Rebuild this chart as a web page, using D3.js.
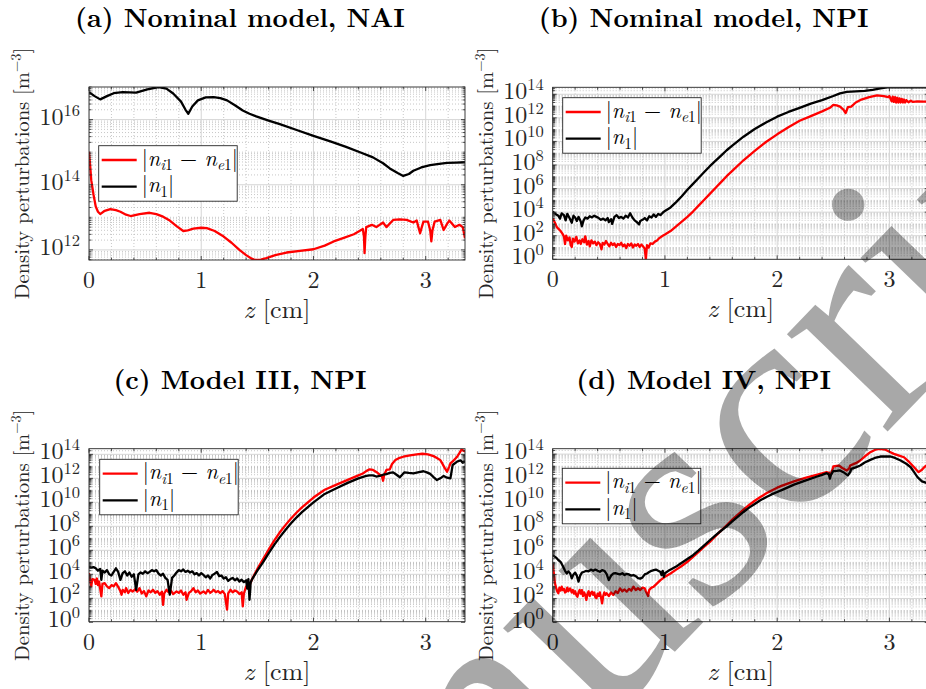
<!DOCTYPE html>
<html>
<head>
<meta charset="utf-8">
<script src="https://cdn.jsdelivr.net/npm/d3@7"></script>
<style>
  body { margin: 0; background: #fff; }
  svg { display: block; }
</style>
</head>
<body>
<svg id="fig" width="926" height="689"></svg>
<script>
// values: [z (cm), log10 of |perturbation| (m^-3)]
const aDiff = [[0,15.01],[0.01,14.6],[0.02,14.14],[0.04,13.7],[0.06,13.33],[0.08,13.17],[0.1,13.1],[0.14,13.2],[0.19,13.25],[0.24,13.22],[0.28,13.17],[0.33,13.08],[0.37,13.04],[0.45,13.1],[0.54,13.14],[0.6,13.1],[0.66,13.02],[0.72,12.9],[0.78,12.73],[0.84,12.58],[0.88,12.6],[0.93,12.65],[1.0,12.68],[1.05,12.67],[1.12,12.58],[1.2,12.41],[1.27,12.22],[1.34,12.0],[1.4,11.84],[1.45,11.73],[1.48,11.69],[1.53,11.7],[1.58,11.75],[1.66,11.84],[1.76,11.92],[1.88,11.97],[2.0,12.02],[2.1,12.13],[2.18,12.26],[2.27,12.37],[2.36,12.48],[2.44,12.64],[2.45,12.4],[2.455,11.9],[2.462,12.4],[2.47,12.7],[2.52,12.77],[2.56,12.7],[2.62,12.84],[2.65,12.7],[2.71,12.92],[2.77,12.94],[2.83,12.92],[2.89,12.84],[2.92,12.9],[2.935,12.7],[2.95,12.51],[2.965,12.7],[2.98,12.87],[3.02,12.87],[3.04,12.6],[3.05,12.26],[3.06,12.6],[3.08,12.87],[3.13,12.92],[3.16,12.61],[3.19,12.8],[3.21,12.9],[3.26,12.7],[3.3,12.77],[3.33,12.7],[3.35,12.36]];
const aN1 = [[0,16.84],[0.05,16.72],[0.1,16.62],[0.16,16.72],[0.22,16.81],[0.3,16.84],[0.42,16.83],[0.52,16.93],[0.62,17.0],[0.69,16.95],[0.75,16.8],[0.82,16.55],[0.86,16.3],[0.885,16.18],[0.92,16.4],[0.97,16.59],[1.04,16.68],[1.11,16.69],[1.17,16.66],[1.23,16.59],[1.3,16.44],[1.37,16.28],[1.43,16.18],[1.49,16.1],[1.6,15.97],[1.7,15.86],[1.85,15.68],[2.0,15.5],[2.15,15.33],[2.29,15.16],[2.42,14.99],[2.53,14.84],[2.62,14.66],[2.68,14.5],[2.75,14.36],[2.8,14.27],[2.85,14.33],[2.89,14.43],[2.96,14.53],[3.04,14.6],[3.12,14.64],[3.19,14.67],[3.27,14.68],[3.35,14.69]];

const bDiff = [[0,3.48],[0.02,3.1],[0.035,2.77],[0.05,2.6],[0.07,2.4],[0.085,2.2],[0.1,1.95],[0.11,1.3],[0.12,2.0],[0.135,1.6],[0.15,1.85],[0.16,1.2],[0.17,1.05],[0.18,1.75],[0.195,1.5],[0.21,1.9],[0.225,1.35],[0.24,1.6],[0.25,1.3],[0.265,1.7],[0.28,1.45],[0.29,1.95],[0.305,1.25],[0.32,1.55],[0.33,1.1],[0.345,1.6],[0.36,1.35],[0.375,1.5],[0.39,1.2],[0.405,1.45],[0.42,1.3],[0.435,0.85],[0.445,1.4],[0.46,1.25],[0.475,1.55],[0.49,1.3],[0.505,1.1],[0.52,1.4],[0.535,1.2],[0.55,1.35],[0.565,1.05],[0.58,1.3],[0.595,1.2],[0.61,1.4],[0.625,1.1],[0.64,1.25],[0.655,0.95],[0.67,1.3],[0.685,1.15],[0.7,1.35],[0.715,1.0],[0.73,1.25],[0.745,1.15],[0.76,1.3],[0.775,1.05],[0.79,1.25],[0.805,1.1],[0.82,0.9],[0.83,0.0],[0.84,1.2],[0.855,1.0],[0.87,1.35],[0.89,1.3],[0.91,1.5],[0.93,1.6],[0.95,1.8],[0.98,2.0],[1.0,2.1],[1.05,2.4],[1.1,2.8],[1.15,3.2],[1.2,3.6],[1.25,4.05],[1.3,4.55],[1.35,5.05],[1.4,5.55],[1.45,6.05],[1.5,6.55],[1.55,7.05],[1.6,7.5],[1.7,8.4],[1.8,9.2],[1.9,9.95],[2.0,10.6],[2.1,11.2],[2.2,11.75],[2.3,12.15],[2.4,12.55],[2.47,12.85],[2.5,13.1],[2.53,13.05],[2.56,12.95],[2.59,12.7],[2.61,12.4],[2.63,12.9],[2.66,12.95],[2.7,13.3],[2.75,13.55],[2.82,13.75],[2.89,13.9],[2.95,13.85],[2.99,13.75],[3.0,13.85],[3.02,13.4],[3.03,13.8],[3.04,13.35],[3.05,13.75],[3.06,13.3],[3.07,13.7],[3.08,13.3],[3.09,13.65],[3.1,13.3],[3.11,13.6],[3.12,13.3],[3.13,13.55],[3.14,13.3],[3.15,13.5],[3.17,13.32],[3.19,13.45],[3.21,13.35],[3.25,13.4],[3.3,13.37],[3.35,13.38]];
const bN1 = [[0,4.04],[0.025,3.85],[0.05,3.7],[0.065,3.45],[0.08,3.9],[0.1,3.75],[0.115,3.3],[0.13,3.85],[0.15,3.5],[0.17,3.1],[0.185,3.7],[0.2,3.55],[0.215,3.25],[0.23,3.6],[0.25,3.2],[0.26,2.8],[0.275,3.3],[0.29,3.55],[0.31,3.45],[0.33,3.65],[0.35,3.55],[0.37,3.7],[0.39,3.6],[0.41,3.5],[0.43,3.35],[0.45,3.45],[0.47,3.3],[0.49,3.5],[0.5,3.15],[0.52,3.4],[0.53,3.0],[0.55,3.6],[0.57,3.75],[0.59,3.5],[0.61,3.6],[0.63,3.45],[0.65,3.7],[0.67,3.55],[0.69,3.9],[0.71,3.55],[0.73,3.3],[0.75,3.15],[0.77,2.95],[0.78,3.25],[0.8,3.35],[0.82,3.5],[0.84,3.3],[0.86,3.65],[0.88,3.55],[0.9,3.8],[0.92,3.6],[0.94,3.85],[0.96,3.75],[0.98,3.95],[1.0,4.1],[1.05,4.4],[1.1,4.85],[1.15,5.35],[1.2,5.9],[1.25,6.4],[1.3,6.9],[1.35,7.4],[1.4,7.9],[1.45,8.35],[1.5,8.8],[1.55,9.25],[1.6,9.65],[1.7,10.4],[1.8,11.05],[1.9,11.6],[2.0,12.1],[2.1,12.5],[2.2,12.85],[2.3,13.2],[2.4,13.5],[2.5,13.85],[2.56,14.08],[2.62,14.2],[2.7,14.25],[2.78,14.28],[2.85,14.38],[2.92,14.5],[2.98,14.59],[3.35,14.59]];

const cDiff = [[0,4.1],[0.01,3.5],[0.02,2.99],[0.03,3.6],[0.05,3.54],[0.06,3.2],[0.07,3.65],[0.08,3.1],[0.09,3.4],[0.11,2.16],[0.12,3.2],[0.14,3.26],[0.16,3.0],[0.18,2.85],[0.2,3.1],[0.22,3.0],[0.24,3.26],[0.26,2.95],[0.28,2.6],[0.29,2.3],[0.3,2.7],[0.32,2.5],[0.33,2.85],[0.35,2.45],[0.37,2.7],[0.39,2.57],[0.41,2.75],[0.43,2.55],[0.45,2.85],[0.47,2.4],[0.49,2.6],[0.51,2.16],[0.53,2.65],[0.55,2.5],[0.57,2.71],[0.59,2.45],[0.61,2.6],[0.63,2.3],[0.65,2.55],[0.66,1.46],[0.67,2.4],[0.69,2.71],[0.71,2.5],[0.73,2.65],[0.75,2.35],[0.78,2.57],[0.8,2.45],[0.82,2.65],[0.84,2.3],[0.86,2.5],[0.87,1.88],[0.89,2.45],[0.91,2.6],[0.93,2.85],[0.95,2.5],[0.97,2.65],[0.99,2.4],[1.02,2.57],[1.04,2.4],[1.06,2.7],[1.08,2.45],[1.1,2.6],[1.11,2.71],[1.13,2.5],[1.15,2.6],[1.17,2.43],[1.19,2.6],[1.21,2.35],[1.23,1.05],[1.24,2.4],[1.26,2.71],[1.28,2.5],[1.3,2.65],[1.32,2.57],[1.34,2.35],[1.36,2.5],[1.37,1.33],[1.38,2.4],[1.4,2.99],[1.42,2.85],[1.44,3.3],[1.45,3.54],[1.5,4.45],[1.55,5.25],[1.6,6.05],[1.65,6.8],[1.7,7.5],[1.75,8.1],[1.8,8.65],[1.85,9.15],[1.9,9.6],[1.95,10.0],[2.0,10.4],[2.1,11.05],[2.2,11.45],[2.3,11.85],[2.4,12.25],[2.44,12.4],[2.47,12.6],[2.5,12.75],[2.53,12.7],[2.56,12.53],[2.59,12.3],[2.61,12.15],[2.62,11.8],[2.63,12.3],[2.65,12.7],[2.68,12.75],[2.7,13.2],[2.73,13.52],[2.76,13.68],[2.8,13.8],[2.86,13.92],[2.92,14.0],[2.97,14.05],[3.02,14.0],[3.07,13.85],[3.1,13.7],[3.13,13.52],[3.15,13.2],[3.17,12.85],[3.19,12.55],[3.21,13.0],[3.22,13.25],[3.25,13.5],[3.28,13.8],[3.3,14.1],[3.32,14.42],[3.335,14.3],[3.35,14.25]];
const cN1 = [[0,4.65],[0.02,4.55],[0.04,4.6],[0.06,4.5],[0.08,4.3],[0.1,4.45],[0.11,3.54],[0.12,4.3],[0.14,4.15],[0.16,4.35],[0.18,4.0],[0.2,3.9],[0.22,4.2],[0.24,4.5],[0.26,4.2],[0.28,3.54],[0.3,4.1],[0.32,4.25],[0.34,3.9],[0.36,4.15],[0.38,3.8],[0.4,4.0],[0.42,2.7],[0.44,4.0],[0.46,4.15],[0.48,4.05],[0.5,4.25],[0.52,4.1],[0.54,4.2],[0.56,4.35],[0.58,4.25],[0.6,4.35],[0.62,4.05],[0.64,3.9],[0.66,4.05],[0.68,3.7],[0.7,3.54],[0.72,2.3],[0.74,3.7],[0.76,3.9],[0.78,4.15],[0.8,4.35],[0.82,4.25],[0.84,4.4],[0.86,4.2],[0.88,4.3],[0.9,4.15],[0.92,4.25],[0.94,4.0],[0.96,4.1],[0.98,3.9],[1.0,4.1],[1.02,3.95],[1.04,3.75],[1.06,3.9],[1.08,3.65],[1.1,3.95],[1.12,4.05],[1.14,4.2],[1.16,3.85],[1.18,3.9],[1.2,3.65],[1.22,3.75],[1.24,3.45],[1.26,3.6],[1.28,3.7],[1.3,3.5],[1.32,3.65],[1.34,3.4],[1.36,3.55],[1.38,3.35],[1.4,3.5],[1.41,2.8],[1.42,3.6],[1.43,1.88],[1.44,3.3],[1.45,3.54],[1.5,4.3],[1.55,5.0],[1.6,5.75],[1.65,6.45],[1.7,7.1],[1.75,7.7],[1.8,8.25],[1.85,8.75],[1.9,9.2],[1.95,9.6],[2.0,10.0],[2.1,10.7],[2.2,11.15],[2.3,11.6],[2.4,12.0],[2.47,12.2],[2.5,12.25],[2.53,12.25],[2.56,12.15],[2.59,12.2],[2.62,12.3],[2.65,12.35],[2.68,12.45],[2.71,12.5],[2.74,12.3],[2.77,12.09],[2.79,12.3],[2.81,12.5],[2.85,12.45],[2.89,12.42],[2.94,12.52],[2.98,12.59],[3.01,12.5],[3.04,12.37],[3.07,12.1],[3.1,11.86],[3.13,12.0],[3.16,12.2],[3.19,12.05],[3.22,12.0],[3.24,13.11],[3.28,13.4],[3.31,13.5],[3.33,13.3],[3.35,13.4]];

const dDiff = [[0,4.91],[0.01,4.1],[0.02,3.26],[0.03,2.9],[0.04,2.6],[0.05,2.43],[0.06,2.9],[0.07,2.65],[0.08,2.98],[0.09,2.7],[0.1,2.8],[0.11,2.5],[0.12,2.57],[0.13,2.9],[0.14,2.6],[0.155,2.84],[0.17,2.5],[0.18,2.7],[0.19,2.4],[0.2,2.6],[0.21,2.3],[0.22,2.15],[0.23,2.5],[0.24,2.7],[0.25,2.4],[0.26,2.7],[0.27,2.2],[0.28,2.5],[0.29,2.3],[0.3,1.88],[0.31,2.4],[0.32,2.6],[0.33,2.2],[0.34,2.45],[0.35,2.57],[0.36,2.3],[0.37,2.5],[0.38,2.1],[0.39,2.02],[0.4,2.4],[0.41,2.2],[0.42,2.5],[0.43,2.1],[0.44,1.6],[0.45,2.2],[0.46,2.5],[0.47,2.3],[0.48,2.43],[0.5,2.2],[0.52,2.5],[0.54,2.29],[0.56,2.6],[0.58,2.45],[0.6,2.84],[0.62,2.6],[0.64,2.75],[0.66,2.57],[0.68,2.8],[0.7,2.65],[0.72,2.98],[0.74,2.7],[0.76,2.85],[0.78,2.7],[0.8,2.9],[0.82,2.84],[0.83,2.6],[0.85,2.2],[0.86,2.7],[0.88,2.9],[0.9,2.98],[0.93,3.25],[0.96,3.53],[1.0,3.8],[1.05,4.08],[1.1,4.4],[1.14,4.64],[1.2,5.05],[1.25,5.46],[1.3,5.88],[1.35,6.3],[1.4,6.71],[1.45,7.18],[1.5,7.64],[1.55,8.09],[1.6,8.55],[1.65,8.98],[1.7,9.39],[1.75,9.77],[1.8,10.12],[1.85,10.43],[1.9,10.72],[1.95,10.98],[2.0,11.21],[2.05,11.4],[2.1,11.57],[2.15,11.73],[2.2,11.88],[2.25,12.02],[2.3,12.15],[2.35,12.27],[2.4,12.4],[2.44,12.5],[2.46,12.45],[2.48,12.3],[2.5,12.97],[2.53,13.02],[2.55,13.05],[2.58,12.85],[2.62,12.64],[2.64,12.8],[2.65,13.05],[2.7,13.25],[2.74,13.47],[2.78,13.8],[2.83,14.16],[2.87,14.35],[2.9,14.44],[2.93,14.42],[2.96,14.38],[3.0,14.2],[3.04,14.02],[3.08,13.9],[3.13,13.74],[3.17,13.4],[3.22,12.91],[3.26,12.5],[3.29,12.7],[3.31,12.91],[3.33,13.05],[3.35,13.1]];
const dN1 = [[0,5.6],[0.03,5.4],[0.05,5.2],[0.07,5.05],[0.09,4.7],[0.11,4.3],[0.125,4.08],[0.14,4.25],[0.155,4.1],[0.17,3.67],[0.185,4.0],[0.2,4.15],[0.215,3.9],[0.23,3.4],[0.245,3.9],[0.26,4.15],[0.28,4.22],[0.3,4.3],[0.32,4.25],[0.34,4.4],[0.36,4.3],[0.38,4.4],[0.4,4.3],[0.42,4.22],[0.44,4.35],[0.46,4.3],[0.48,4.05],[0.5,3.53],[0.52,3.9],[0.54,4.08],[0.56,4.1],[0.58,4.05],[0.6,4.0],[0.62,4.1],[0.64,3.95],[0.66,4.05],[0.68,4.0],[0.7,3.9],[0.72,3.95],[0.74,3.85],[0.76,3.7],[0.78,3.65],[0.8,3.75],[0.82,4.0],[0.84,4.08],[0.86,4.2],[0.88,4.3],[0.9,4.35],[0.92,4.4],[0.94,4.3],[0.96,4.2],[0.97,3.95],[0.98,4.3],[0.99,3.8],[1.0,4.1],[1.03,4.3],[1.06,4.45],[1.1,4.65],[1.13,4.85],[1.17,5.1],[1.21,5.35],[1.25,5.6],[1.3,6.0],[1.35,6.42],[1.4,6.84],[1.45,7.25],[1.5,7.63],[1.55,8.0],[1.6,8.4],[1.65,8.8],[1.7,9.19],[1.75,9.55],[1.8,9.85],[1.85,10.16],[1.9,10.42],[1.95,10.65],[2.0,10.85],[2.05,11.05],[2.1,11.26],[2.15,11.46],[2.2,11.63],[2.25,11.8],[2.3,11.96],[2.35,12.12],[2.4,12.28],[2.44,12.42],[2.46,12.3],[2.47,11.96],[2.48,12.3],[2.5,12.58],[2.53,12.6],[2.56,12.64],[2.59,12.5],[2.62,12.3],[2.63,12.23],[2.65,12.5],[2.66,12.77],[2.7,12.9],[2.74,13.05],[2.78,13.3],[2.83,13.52],[2.87,13.68],[2.92,13.8],[2.97,13.82],[3.01,13.8],[3.05,13.68],[3.1,13.47],[3.15,13.2],[3.19,12.91],[3.22,12.5],[3.25,12.08],[3.29,11.73],[3.33,11.6],[3.35,11.55]];

const zRange = [0, 3.35];
const xTicks = [0, 1, 2, 3];
const titles = ["(a) Nominal model, NAI", "(b) Nominal model, NPI", "(c) Model III, NPI", "(d) Model IV, NPI"];
const yRanges = [[11.69, 17.0], [0, 14.59], [0.05, 14.47], [0.07, 14.45]]; // log10 limits
const yTickExps = [[12, 14, 16], [0, 2, 4, 6, 8, 10, 12, 14], [0, 2, 4, 6, 8, 10, 12, 14], [0, 2, 4, 6, 8, 10, 12, 14]];
const seriesDiff = [aDiff, bDiff, cDiff, dDiff];
const seriesN1 = [aN1, bN1, cN1, dN1];

// layout
const AXW = 376;
const boxes = [
  { x: 89, y: 87, h: 173, lx: 9.7, ly: 58.7 },
  { x: 552.7, y: 87.3, h: 172, lx: 10, ly: 10.4 },
  { x: 89, y: 448.7, h: 173, lx: 10.7, ly: 10.6 },
  { x: 552.7, y: 448.7, h: 173, lx: 9.6, ly: 19.6 }
];

const LM = "'Latin Modern Roman', 'Liberation Serif', serif";
const AXC = "#262626";
const svg = d3.select("#fig");
const defs = svg.append("defs");

// text made of runs: italic, subscript, superscript
function addRuns(sel, runs, size, subSize, subDy, supDy) {
  let shift = 0;
  runs.forEach(r => {
    const want = r.sub ? subDy : (r.sup ? supDy : 0);
    const ts = sel.append("tspan").text(r.t)
      .attr("font-size", (r.sub || r.sup) ? subSize : size)
      .attr("font-style", r.i ? "italic" : "normal");
    if (want !== shift) { ts.attr("dy", want - shift); shift = want; }
  });
}

const legendRuns = [
  [{t:"|"},{t:"n",i:1},{t:"i",i:1,sub:1},{t:"1",sub:1},{t:" − "},{t:"n",i:1},{t:"e",i:1,sub:1},{t:"1",sub:1},{t:"|"}],
  [{t:"|"},{t:"n",i:1},{t:"1",sub:1},{t:"|"}]
];

boxes.forEach((b, k) => {
  const x = d3.scaleLinear().domain(zRange).range([b.x, b.x + AXW]);
  const y = d3.scaleLog().domain(yRanges[k].map(e => Math.pow(10, e))).range([b.y + b.h, b.y]);
  const g = svg.append("g");
  const lo = yRanges[k][0], hi = yRanges[k][1];

  defs.append("clipPath").attr("id", "clip" + k)
    .append("rect").attr("x", b.x).attr("y", b.y).attr("width", AXW).attr("height", b.h);

  // minor grid (dotted)
  const minorY = [];
  for (let e = Math.floor(lo); e <= Math.ceil(hi); e++) {
    for (let m = 1; m <= 9; m++) {
      const v = m * Math.pow(10, e);
      const le = Math.log10(v);
      if (le < lo || le > hi) continue;
      if (m === 1 && yTickExps[k].includes(e)) continue;
      minorY.push(v);
    }
  }
  const minorX = d3.range(0.2, 3.35, 0.2).filter(v => Math.abs(v - Math.round(v)) > 1e-6);
  const grid = g.append("g").attr("clip-path", `url(#clip${k})`);
  grid.selectAll(".my").data(minorY).join("line")
    .attr("x1", b.x).attr("x2", b.x + AXW)
    .attr("y1", d => y(d)).attr("y2", d => y(d))
    .attr("stroke", "#b9b9b9").attr("stroke-width", 0.8).attr("stroke-dasharray", "1,2");
  grid.selectAll(".mx").data(minorX).join("line")
    .attr("y1", b.y).attr("y2", b.y + b.h)
    .attr("x1", d => x(d)).attr("x2", d => x(d))
    .attr("stroke", "#b9b9b9").attr("stroke-width", 0.8).attr("stroke-dasharray", "1,2");
  // major grid
  grid.selectAll(".gy").data(yTickExps[k]).join("line")
    .attr("x1", b.x).attr("x2", b.x + AXW)
    .attr("y1", d => y(Math.pow(10, d))).attr("y2", d => y(Math.pow(10, d)))
    .attr("stroke", "#d6d6d6").attr("stroke-width", 1);
  grid.selectAll(".gx").data(xTicks).join("line")
    .attr("y1", b.y).attr("y2", b.y + b.h)
    .attr("x1", d => x(d)).attr("x2", d => x(d))
    .attr("stroke", "#d6d6d6").attr("stroke-width", 1);

  // curves
  const line = d3.line().x(d => x(d[0])).y(d => y(Math.pow(10, d[1])));
  const curves = g.append("g").attr("clip-path", `url(#clip${k})`);
  curves.append("path").datum(seriesDiff[k]).attr("d", line)
    .attr("fill", "none").attr("stroke", "#ff0000").attr("stroke-width", 2.3).attr("stroke-linejoin", "round");
  curves.append("path").datum(seriesN1[k]).attr("d", line)
    .attr("fill", "none").attr("stroke", "#000").attr("stroke-width", 2.3).attr("stroke-linejoin", "round");

  // ticks (inward, all four sides)
  const tk = g.append("g").attr("stroke", AXC).attr("stroke-width", 0.8);
  xTicks.forEach(v => {
    tk.append("line").attr("x1", x(v)).attr("x2", x(v)).attr("y1", b.y + b.h).attr("y2", b.y + b.h - 4);
    tk.append("line").attr("x1", x(v)).attr("x2", x(v)).attr("y1", b.y).attr("y2", b.y + 4);
  });
  minorX.forEach(v => {
    tk.append("line").attr("x1", x(v)).attr("x2", x(v)).attr("y1", b.y + b.h).attr("y2", b.y + b.h - 2.5);
    tk.append("line").attr("x1", x(v)).attr("x2", x(v)).attr("y1", b.y).attr("y2", b.y + 2.5);
  });
  yTickExps[k].forEach(e => {
    const yy = y(Math.pow(10, e));
    tk.append("line").attr("x1", b.x).attr("x2", b.x + 4).attr("y1", yy).attr("y2", yy);
    tk.append("line").attr("x1", b.x + AXW).attr("x2", b.x + AXW - 4).attr("y1", yy).attr("y2", yy);
  });
  minorY.forEach(v => {
    const yy = y(v);
    tk.append("line").attr("x1", b.x).attr("x2", b.x + 2.5).attr("y1", yy).attr("y2", yy);
    tk.append("line").attr("x1", b.x + AXW).attr("x2", b.x + AXW - 2.5).attr("y1", yy).attr("y2", yy);
  });

  // box
  g.append("rect").attr("x", b.x).attr("y", b.y).attr("width", AXW).attr("height", b.h)
    .attr("fill", "none").attr("stroke", AXC).attr("stroke-width", 0.9);

  // tick labels
  g.selectAll(".xl").data(xTicks).join("text")
    .attr("x", d => x(d)).attr("y", b.y + b.h + 28)
    .attr("text-anchor", "middle").attr("font-family", LM).attr("font-size", 24)
    .attr("fill", AXC).text(d => d);
  yTickExps[k].forEach(e => {
    const t = g.append("text").attr("x", b.x - 9).attr("y", y(Math.pow(10, e)) + 5)
      .attr("text-anchor", "end").attr("font-family", LM).attr("fill", AXC);
    addRuns(t, [{t:"10"},{t:String(e),sup:1}], 24, 16.5, 0, -9);
  });

  // axis labels
  const xl = g.append("text").attr("x", b.x + AXW / 2).attr("y", b.y + b.h + 58)
    .attr("text-anchor", "middle").attr("font-family", LM).attr("fill", AXC);
  addRuns(xl, [{t:"z",i:1},{t:" [cm]"}], 26, 18, 0, 0);
  const yl = g.append("text")
    .attr("transform", `translate(${b.x - 60},${b.y + b.h / 2}) rotate(-90)`)
    .attr("text-anchor", "middle").attr("font-family", LM).attr("fill", AXC);
  addRuns(yl, [{t:"Density perturbations [m"},{t:"−3",sup:1},{t:"]"}], 20.6, 14.5, 0, -8);

  // title
  g.append("text").attr("x", b.x + AXW / 2 - 37).attr("y", b.y - 60)
    .attr("text-anchor", "middle").attr("font-family", LM).attr("font-weight", "bold")
    .attr("font-size", 26.5).attr("fill", "#000").text(titles[k]);

  // legend
  const lx = b.x + b.lx, ly = b.y + b.ly;
  const lg = g.append("g");
  lg.append("rect").attr("x", lx).attr("y", ly).attr("width", 138.5).attr("height", 55.5)
    .attr("fill", "#fff").attr("stroke", AXC).attr("stroke-width", 0.9);
  [["#ff0000", 14.3], ["#000", 41]].forEach((s, i) => {
    lg.append("line").attr("x1", lx + 3).attr("x2", lx + 38)
      .attr("y1", ly + s[1]).attr("y2", ly + s[1])
      .attr("stroke", s[0]).attr("stroke-width", 2.3);
    const t = lg.append("text").attr("x", lx + 43).attr("y", ly + s[1] + 5.5)
      .attr("font-family", LM).attr("fill", "#000");
    addRuns(t, legendRuns[i], 22, 15.5, 4.5, 0);
  });
});

// journal watermark laid over the figure
const wm = svg.append("g")
  .attr("transform", "translate(495,838) rotate(-46)")
  .attr("font-family", "'Liberation Serif', serif").attr("font-size", 305)
  .attr("fill", "#000").attr("fill-opacity", 0.34);
wm.append("text").attr("text-anchor", "end").text("Accepted Ma");
wm.append("text").attr("text-anchor", "start").text("nuscript");
</script>
</body>
</html>
